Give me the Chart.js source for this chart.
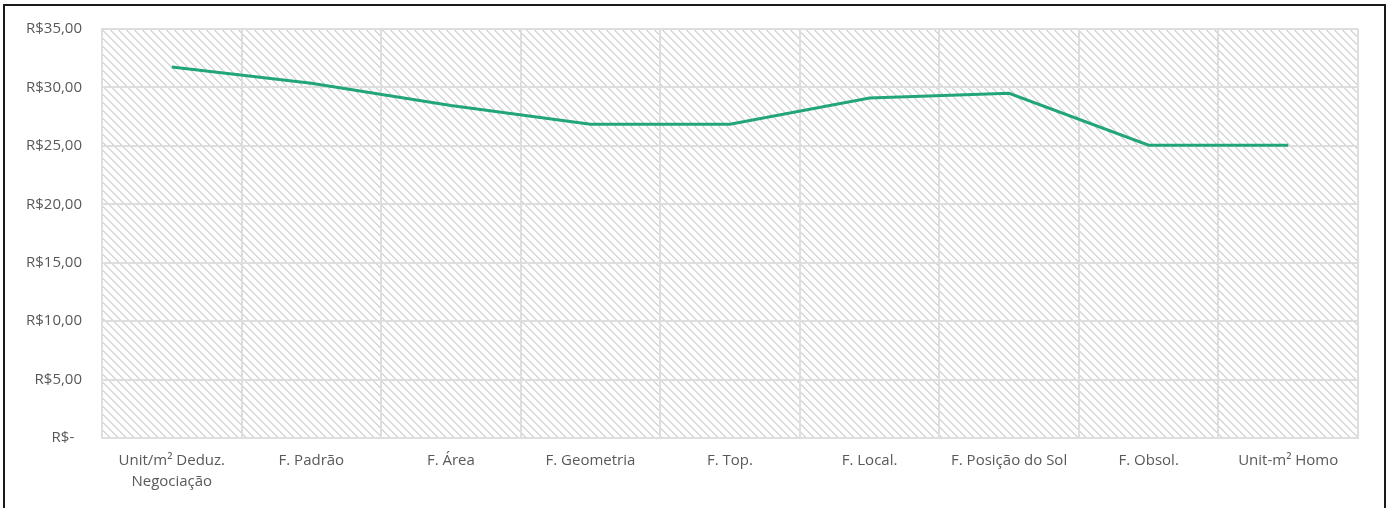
<!DOCTYPE html>
<html>
<head>
<meta charset="utf-8">
<script src="https://cdn.jsdelivr.net/npm/chart.js@4/dist/chart.umd.min.js"></script>
<style>
  html, body { margin: 0; padding: 0; background: #fff; }
  #wrap { position: relative; width: 1392px; height: 508px; overflow: hidden; }
  #c { position: absolute; left: 0; top: 0; }
  #frame {
    position: absolute; left: 3px; top: 4px; width: 1379px; height: 520px;
    border-left: 2px solid #1a1a1a; border-top: 2px solid #1a1a1a; border-right: 2px solid #1a1a1a;
    pointer-events: none;
  }
</style>
</head>
<body>
<div id="wrap">
  <canvas id="c" width="1392" height="508"></canvas>
  <div id="frame"></div>
</div>
<script>
// Fatores de homogeneização aplicados ao valor unitário (R$/m²)
const categories = [
  ["Unit/m² Deduz.", "Negociação"],
  "F. Padrão",
  "F. Área",
  "F. Geometria",
  "F. Top.",
  "F. Local.",
  "F. Posição do Sol",
  "F. Obsol.",
  "Unit-m² Homo"
];
const unitValues = [31.75, 30.35, 28.45, 26.85, 26.85, 29.10, 29.50, 25.05, 25.05];
const yTicks = [0, 5, 10, 15, 20, 25, 30, 35];

const FONT = "'Open Sans', Lato, sans-serif";
const TEXT = "#595959";
const GRID = "#dedede";

// diagonal hatch tile for the plot area
const hatchCanvas = (() => {
  const p = document.createElement('canvas');
  p.width = 8; p.height = 8;
  const g = p.getContext('2d');
  g.fillStyle = '#ffffff';
  g.fillRect(0, 0, 8, 8);
  g.fillStyle = '#d8d8d8';
  for (let i = 0; i < 8; i++) {
    g.fillRect(i, i, 1, 1);
    g.fillRect((i + 1) % 8, i, 1, 1);
  }
  return p;
})();

const plotBackground = {
  id: 'plotBackground',
  beforeDraw(chart) {
    const { ctx, chartArea: a } = chart;
    ctx.save();
    ctx.fillStyle = '#ffffff';
    ctx.fillRect(0, 0, chart.width, chart.height);
    ctx.fillStyle = ctx.createPattern(hatchCanvas, 'repeat');
    ctx.fillRect(a.left, a.top, a.right - a.left, a.bottom - a.top);
    ctx.restore();
  }
};

function money(v) {
  if (v === 0) return 'R$-  ';
  return 'R$' + v.toFixed(2).replace('.', ',');
}

new Chart(document.getElementById('c'), {
  type: 'line',
  data: {
    labels: categories,
    datasets: [{
      data: unitValues,
      borderColor: '#22a57b',
      borderWidth: 3,
      pointRadius: 0,
      tension: 0,
      fill: false
    }]
  },
  options: {
    responsive: false,
    animation: false,
    events: [],
    layout: { padding: { top: 27, right: 34, left: 0, bottom: 0 } },
    plugins: { legend: { display: false }, tooltip: { enabled: false } },
    scales: {
      x: {
        offset: true,
        grid: { offset: true, color: GRID, lineWidth: 2, drawTicks: false },
        border: { color: GRID, width: 2 },
        ticks: {
          color: TEXT, font: { family: FONT, size: 15, lineHeight: 1.4 }, padding: 12,
          maxRotation: 0, autoSkip: false
        },
        afterFit(s) { s.height = 70; }
      },
      y: {
        min: 0, max: 35,
        afterBuildTicks(s) { s.ticks = yTicks.map(v => ({ value: v })); },
        grid: { color: GRID, lineWidth: 2, drawTicks: false },
        border: { color: GRID, width: 2 },
        ticks: {
          color: TEXT, font: { family: FONT, size: 15 }, padding: 20,
          callback: v => money(v)
        },
        afterFit(s) { s.width = 102; }
      }
    }
  },
  plugins: [plotBackground]
});
</script>
</body>
</html>
